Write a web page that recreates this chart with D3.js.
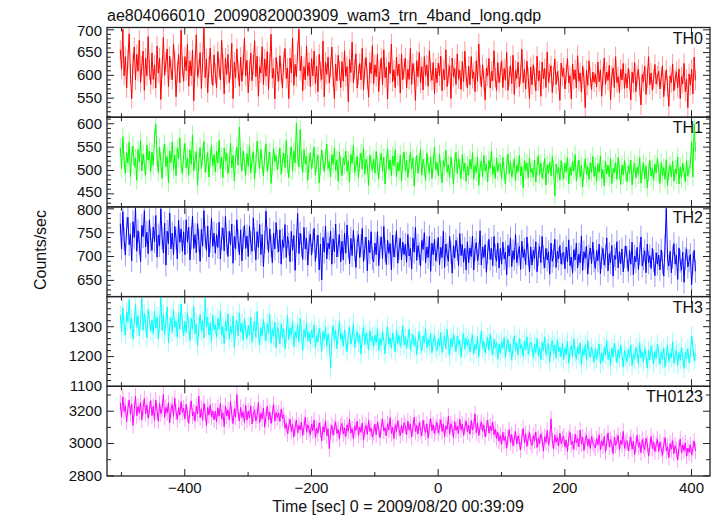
<!DOCTYPE html>
<html><head><meta charset="utf-8">
<script src="https://cdn.jsdelivr.net/npm/d3@7"></script>
<style>body{margin:0;background:#fff} text{font-family:"Liberation Sans",Arial,Helvetica,sans-serif}</style>
</head><body><svg id="c" width="717" height="516"></svg>
<script>
const titleText = "ae804066010_20090820003909_wam3_trn_4band_long.qdp";
const xLabelText = "Time [sec] 0 = 2009/08/20 00:39:09";
const yLabelText = "Counts/sec";
const panelNames = ["TH0","TH1","TH2","TH3","TH0123"];
const panelColors = ["#ff0000","#00ff00","#0000ff","#00ffff","#ff00ff"];
const yDomains = [[507,704],[421,613],[615,803],[1099,1399],[2796,3351]];
const yMajorTicks = [[550,600,650,700],[450,500,550,600],[650,700,750,800],[1100,1200,1300],[2800,3000,3200]];
const yMinorStep = [10,10,10,20,100];
const xMajorTicks = [-400,-200,0,200,400];
const xMinorTicks = [-500,-300,-100,100,300];
const errHalf = [22,20,24,32,50];
const timeStart = -501, timeStep = 2;

const th0 = [
655,612,700,598,640,571,633,690,602,548,624,661,589,645,608,676,583,619,652,566,637,598,684,611,579,
648,590,622,571,663,604,637,546,615,682,599,628,657,574,641,612,589,668,631,552,606,645,583,698,617,
586,640,609,667,575,631,598,654,543,621,688,596,612,649,570,628,702,594,635,561,618,659,601,577,644,
603,572,651,615,589,676,624,558,637,601,645,583,612,669,548,628,593,657,610,575,639,586,622,681,598,
632,561,609,648,587,622,675,596,641,553,618,604,662,579,635,597,651,568,626,689,593,614,547,638,607,
586,642,603,571,629,658,592,615,548,637,604,681,577,623,596,652,700,609,641,565,618,589,663,598,627,
574,636,598,652,581,619,563,645,607,590,674,552,628,601,639,582,616,661,595,548,624,587,643,609,572,
629,586,653,597,618,541,634,605,672,583,612,646,571,600,625,589,658,567,614,638,592,551,627,603,664,
581,622,596,645,563,610,637,578,655,594,617,547,628,603,668,585,611,572,639,598,624,560,646,589,613,
637,571,612,590,658,579,625,603,544,631,596,649,582,618,567,640,598,622,575,653,606,588,627,559,615,
583,626,598,641,565,612,589,655,574,603,620,548,637,596,614,579,646,591,610,568,629,585,652,597,571,
619,578,640,592,607,563,631,586,668,601,574,622,589,545,615,598,636,571,608,587,653,594,566,627,583,
605,631,572,614,588,649,566,597,620,581,643,557,610,592,628,574,601,656,583,612,569,630,594,548,617,
578,622,596,565,641,587,609,553,628,591,614,572,650,584,603,620,561,598,635,579,607,588,544,626,597,
615,569,603,636,582,598,547,624,590,611,571,642,586,604,562,619,593,528,610,577,631,595,568,606,584,
602,574,628,585,611,553,597,637,579,606,588,621,545,598,615,572,640,583,596,561,612,589,625,570,603,
571,614,589,545,606,582,627,563,598,612,574,534,601,585,619,557,593,640,578,604,566,591,623,580,597,
608,569,595,620,552,587,611,574,531,598,583,624,565,590,607,572,613,548,596,580,625,563,591,528,602,
577,612,558,639,588];

const th1 = [
548,503,571,520,492,537,515,560,486,530,551,509,525,478,544,517,563,498,534,512,489,553,521,540,497,
538,510,567,598,527,495,549,518,482,535,556,507,529,473,541,516,560,501,532,488,547,524,569,510,493,
531,557,504,526,489,543,512,575,498,522,539,467,517,548,503,530,561,495,514,537,485,526,552,508,533,
496,540,515,563,502,528,484,547,519,536,493,512,558,505,531,477,524,549,510,592,527,498,541,516,489,
535,508,552,494,521,539,481,515,562,527,503,544,513,488,529,556,497,520,538,471,509,546,518,531,500,
522,547,491,518,536,505,563,512,484,529,550,498,541,515,600,533,506,587,521,495,544,513,530,478,516,
537,502,524,549,490,516,531,472,508,543,519,497,526,555,503,518,485,533,512,547,499,522,476,538,510,
488,526,511,541,497,520,474,533,514,552,495,508,529,483,517,536,502,548,491,523,509,467,531,515,499,
524,493,540,509,481,518,535,497,527,470,512,546,501,522,488,530,509,543,485,516,498,532,476,519,538,
497,521,484,512,539,502,526,466,508,531,493,517,544,489,523,505,478,536,510,495,528,482,513,549,500,
516,488,534,501,473,520,507,542,495,511,484,528,503,469,517,538,492,524,506,481,533,498,515,476,509,
489,523,502,537,480,510,495,528,467,505,519,486,531,498,512,475,520,503,541,491,508,482,526,497,514,
512,481,527,496,470,509,534,492,518,485,503,524,477,511,496,531,488,507,462,520,499,515,483,526,494,
503,485,521,474,508,531,490,515,482,499,525,468,511,493,517,487,529,500,445,513,492,506,478,520,497,
481,515,496,527,470,506,489,518,498,533,477,502,521,485,510,464,499,524,491,507,480,516,495,529,486,
508,476,513,495,530,482,501,466,519,492,510,485,525,471,503,494,516,480,527,498,469,511,489,520,496,
475,509,493,521,468,500,514,483,506,490,527,472,498,515,481,509,462,496,520,487,503,478,512,494,525,
498,471,516,489,505,480,522,467,497,510,485,519,476,502,491,528,470,507,483,514,496,475,520,488,503,
512,560,485,598,540];

const th2 = [
768,715,793,736,702,758,781,724,745,690,772,739,801,710,753,727,688,764,741,795,719,750,705,776,733,
712,761,730,785,698,744,722,799,738,707,769,681,752,726,790,715,748,703,762,737,694,775,729,757,710,
751,703,776,729,760,692,738,784,716,745,707,768,733,689,756,721,795,740,712,763,698,731,779,720,748,
706,745,718,771,694,737,759,711,783,728,699,752,724,767,685,741,715,776,732,703,755,690,738,764,716,
742,699,763,728,710,780,735,692,751,718,766,703,745,678,729,794,737,708,757,721,686,748,715,770,731,
709,755,683,734,718,766,697,741,725,688,752,712,743,670,731,789,705,748,722,693,760,715,737,681,728,
746,702,731,758,689,720,744,671,725,650,739,708,763,694,727,715,752,683,736,709,767,698,722,745,688,
731,692,748,706,765,719,684,737,701,754,713,676,729,745,697,722,758,688,716,740,669,733,707,751,695,
688,727,703,751,680,718,740,695,762,711,682,733,706,726,671,744,698,720,753,685,715,737,692,729,703,
724,687,745,700,716,673,738,708,760,691,722,705,679,733,714,749,686,719,697,741,668,727,703,735,690,
711,739,682,718,697,752,676,725,703,689,741,708,664,722,696,733,715,680,747,701,724,687,716,671,730,
686,717,699,742,671,713,728,690,705,753,681,719,697,724,666,708,735,693,716,680,741,702,689,727,675,
716,683,729,694,708,661,722,700,738,678,711,693,745,686,704,720,672,731,697,714,682,740,703,667,719,
681,712,695,730,667,703,720,686,741,698,675,716,692,709,662,727,689,701,735,676,710,694,722,683,705,
708,673,719,688,734,680,698,664,713,692,727,675,704,686,742,670,709,695,721,662,700,717,684,729,690,
674,711,690,725,663,697,716,681,700,738,669,705,686,722,658,701,693,730,675,709,684,715,667,698,721,
697,668,712,683,729,661,700,688,718,672,705,740,679,694,711,665,725,686,701,674,716,690,659,707,683,
702,671,713,686,658,722,800,694,679,710,665,698,726,683,702,651,717,689,670,708,645,695,715,677,690,
703,640,685,712,668];

const th3 = [
1338,1281,1362,1302,1270,1347,1315,1389,1290,1326,1257,1311,1372,1296,1335,1268,1320,1394,1287,1343,1305,1262,1356,1319,1283,
1321,1275,1350,1293,1332,1258,1307,1400,1286,1339,1271,1314,1365,1244,1302,1328,1279,1355,1296,1317,1262,1343,1290,1374,1309,
1268,1316,1279,1345,1301,1252,1327,1289,1366,1274,1308,1235,1295,1340,1283,1319,1261,1393,1297,1330,1270,1312,1248,1336,1288,
1305,1263,1327,1289,1351,1270,1298,1241,1316,1284,1342,1257,1300,1276,1334,1230,1291,1318,1267,1345,1280,1309,1253,1326,1286,
1259,1302,1271,1330,1246,1288,1317,1263,1349,1279,1237,1296,1268,1324,1282,1251,1310,1275,1339,1243,1290,1266,1313,1228,1297,
1283,1240,1308,1262,1291,1225,1274,1337,1255,1295,1270,1318,1232,1281,1260,1304,1247,1326,1276,1219,1289,1263,1311,1251,1279,
1242,1286,1261,1305,1228,1270,1247,1293,1264,1216,1281,1255,1298,1233,1275,1243,1160,1266,1302,1250,1288,1225,1271,1316,1256,
1274,1233,1289,1251,1215,1268,1296,1240,1263,1309,1229,1258,1281,1244,1271,1206,1262,1298,1238,1277,1255,1220,1286,1249,1267,
1231,1270,1245,1292,1218,1259,1236,1281,1253,1207,1266,1299,1240,1262,1226,1277,1250,1214,1288,1243,1269,1232,1256,1303,1238,
1265,1226,1258,1289,1220,1247,1273,1234,1261,1205,1252,1282,1239,1217,1268,1244,1291,1228,1255,1236,1275,1211,1249,1270,1232,
1218,1257,1233,1279,1212,1246,1268,1225,1290,1240,1203,1259,1231,1272,1244,1215,1266,1237,1253,1196,1248,1275,1223,1261,1235,
1254,1213,1246,1271,1207,1239,1222,1265,1198,1243,1283,1226,1250,1211,1237,1262,1219,1274,1233,1204,1256,1228,1245,1189,1241,
1209,1248,1226,1262,1195,1235,1255,1214,1241,1186,1229,1268,1217,1244,1203,1259,1225,1238,1198,1251,1221,1265,1207,1232,1247,
1233,1194,1240,1212,1259,1201,1228,1187,1246,1219,1264,1205,1226,1242,1180,1231,1252,1210,1237,1193,1256,1214,1229,1198,1244,
1188,1227,1205,1249,1176,1218,1235,1199,1258,1212,1190,1231,1207,1244,1171,1223,1202,1238,1185,1252,1214,1196,1230,1209,1181,
1226,1191,1218,1240,1175,1209,1183,1230,1204,1252,1189,1215,1169,1227,1198,1243,1211,1178,1221,1195,1236,1206,1163,1219,1200,
1181,1222,1198,1237,1168,1207,1189,1229,1211,1172,1245,1194,1215,1180,1226,1201,1160,1219,1188,1233,1205,1174,1216,1192,1240,
1207,1172,1215,1189,1228,1163,1199,1236,1182,1210,1194,1248,1176,1203,1221,1169,1212,1186,1230,1197,1158,1214,1190,1225,1178,
1205,1268,1232,1185,1210];

const th0123 = [
3248,3160,3285,3196,3230,3132,3214,3267,3178,3241,3110,3205,3290,3169,3226,3188,3252,3143,3219,3275,3181,3236,3154,3210,3262,
3170,3228,3141,3266,3199,3135,3245,3182,3213,3300,3158,3221,3187,3249,3125,3204,3238,3165,3277,3192,3146,3219,3174,3256,3189,
3215,3150,3239,3176,3122,3204,3261,3168,3193,3135,3228,3181,3290,3157,3212,3140,3245,3188,3109,3220,3173,3237,3161,3198,3144,
3196,3131,3218,3165,3244,3150,3187,3102,3229,3168,3205,3143,3256,3179,3120,3212,3160,3300,3184,3138,3221,3157,3193,3127,3234,
3141,3198,3155,3230,3118,3179,3206,3137,3169,3251,3126,3184,3149,3217,3098,3165,3229,3144,3192,3121,3178,3240,3135,3188,3159,
3186,3134,3210,3152,3175,3090,3121,3058,3104,3147,3072,3115,3038,3096,3142,3064,3109,3081,3130,3047,3098,3160,3069,3112,3085,
3052,3118,3076,3143,3034,3092,3060,3125,3081,3014,3101,3067,3138,3045,3088,2965,3070,3110,3049,3096,3131,3058,3084,3026,3102,
3121,3055,3094,3040,3112,3073,3147,3061,3089,3025,3106,3079,3135,3048,3098,3066,3124,3017,3083,3109,3054,3140,3071,3093,3036,
3067,3116,3050,3129,3085,3033,3102,3148,3074,3095,3044,3120,3081,3157,3060,3097,3028,3113,3072,3138,3089,3046,3108,3063,3126,
3104,3052,3135,3079,3118,3038,3095,3161,3071,3110,3056,3127,3084,3045,3141,3093,3066,3119,3030,3101,3150,3077,3113,3058,3096,
3128,3061,3099,3144,3072,3115,3040,3107,3085,3166,3054,3120,3091,3035,3132,3078,3103,3059,3147,3082,3117,3048,3098,3136,3069,
3110,3055,3139,3081,3102,3180,3064,3125,3047,3096,3131,3073,3112,3038,3090,3143,3062,3104,3075,3128,3051,3085,3029,3066,3012,
3048,2991,3067,3015,3040,2968,3032,3083,3004,3052,2983,3026,3071,2995,3044,3010,2957,3036,3090,3001,3058,2979,3029,3064,3007,
2985,3046,3012,3069,2972,3030,2995,3057,3021,2950,3039,3003,3078,2988,3027,3150,3014,2966,3048,3006,3035,2980,3061,2997,3024,
3043,2975,3019,2948,3031,3066,2990,3012,2961,3054,3001,3028,2976,3080,2995,3037,2953,3015,3049,2982,3024,2966,3040,3003,2985,
2970,3027,2989,3051,2958,3013,2982,3040,2944,3006,3063,2976,3021,2995,2935,3034,2986,3009,3048,2961,3017,2991,3072,2967,3002,
3015,2952,2998,3036,2963,3010,2928,2987,3049,2974,3003,2940,3022,2981,2957,3030,2995,2918,2976,3041,2966,3008,2947,2990,3026,
2948,3006,2965,2924,2989,3033,2952,2978,2910,2996,2961,3015,2935,2983,2957,2895,2971,3024,2940,2987,2953,3001,2918,2969,2942,
2990,2927,2968,3012,2950];

const seriesValues = [th0, th1, th2, th3, th0123];

const svg = d3.select("#c");
const left = 107, right = 710, top0 = 27.5, panelH = 89.7;
const x = d3.scaleLinear().domain([-522, 430]).range([left, right]);
const axisColor = "#222";

svg.append("text").attr("x", 107).attr("y", 20.5).attr("font-size", 16).attr("fill", "#111").text(titleText);
svg.append("text").attr("transform", "translate(46,250) rotate(-90)").attr("text-anchor", "middle")
  .attr("font-size", 16).attr("fill", "#111").text(yLabelText);
svg.append("text").attr("x", 398).attr("y", 512).attr("text-anchor", "middle")
  .attr("font-size", 16).attr("fill", "#111").text(xLabelText);

function styleAxis(g) {
  g.select(".domain").remove();
  g.selectAll(".tick line").attr("stroke", axisColor).attr("stroke-width", 1);
  g.selectAll(".tick text").attr("font-size", 15).attr("fill", "#111")
    .attr("font-family", '"Liberation Sans",Arial,sans-serif');
}

seriesValues.forEach((vals, k) => {
  const top = top0 + k * panelH, bottom = top + panelH;
  const y = d3.scaleLinear().domain(yDomains[k]).range([bottom, top]);
  const g = svg.append("g");
  const clipId = "clip" + k;
  svg.append("clipPath").attr("id", clipId).append("rect")
    .attr("x", left).attr("y", top).attr("width", right - left).attr("height", panelH);
  const data = vals.map((v, i) => ({ t: timeStart + i * timeStep, v }));
  const dg = g.append("g").attr("clip-path", `url(#${clipId})`);
  dg.append("g").selectAll("line").data(data).join("line")
    .attr("x1", d => x(d.t)).attr("x2", d => x(d.t))
    .attr("y1", d => y(d.v - errHalf[k])).attr("y2", d => y(d.v + errHalf[k]))
    .attr("stroke", panelColors[k]).attr("stroke-opacity", 0.4).attr("stroke-width", 1);
  dg.append("path").datum(data)
    .attr("d", d3.line().x(d => x(d.t)).y(d => y(d.v)))
    .attr("fill", "none").attr("stroke", panelColors[k]).attr("stroke-width", 1);

  const [d0, d1] = yDomains[k];
  const st = yMinorStep[k];
  const minor = d3.range(Math.ceil(d0 / st) * st, d1, st).filter(v => !yMajorTicks[k].includes(v));

  g.append("g").attr("transform", `translate(${left},0)`)
    .call(d3.axisLeft(y).tickValues(yMajorTicks[k]).tickSize(-7).tickPadding(5).tickFormat(d3.format("d")))
    .call(styleAxis)
    .call(ax => ax.selectAll(".tick text").attr("y", d => {
      const py = y(d);
      if (py - top < 4) return 1.2;
      const fb = bottom - py;
      if (fb > 5 && fb < 16) return -1.2;
      return 0;
    }));
  g.append("g").attr("transform", `translate(${left},0)`)
    .call(d3.axisLeft(y).tickValues(minor).tickSize(-4).tickFormat(""))
    .call(styleAxis);
  g.append("g").attr("transform", `translate(${right},0)`)
    .call(d3.axisRight(y).tickValues(yMajorTicks[k]).tickSize(-7).tickFormat(""))
    .call(styleAxis);
  g.append("g").attr("transform", `translate(${right},0)`)
    .call(d3.axisRight(y).tickValues(minor).tickSize(-4).tickFormat(""))
    .call(styleAxis);
  g.append("g").attr("transform", `translate(0,${top})`)
    .call(d3.axisTop(x).tickValues(xMajorTicks).tickSize(-7).tickFormat(""))
    .call(styleAxis);
  g.append("g").attr("transform", `translate(0,${top})`)
    .call(d3.axisTop(x).tickValues(xMinorTicks).tickSize(-4).tickFormat(""))
    .call(styleAxis);
  const isLast = k === seriesValues.length - 1;
  g.append("g").attr("transform", `translate(0,${bottom})`)
    .call(d3.axisBottom(x).tickValues(xMajorTicks).tickSize(-7).tickPadding(6.5)
      .tickFormat(isLast ? d3.format("d") : ""))
    .call(styleAxis);
  g.append("g").attr("transform", `translate(0,${bottom})`)
    .call(d3.axisBottom(x).tickValues(xMinorTicks).tickSize(-4).tickFormat(""))
    .call(styleAxis);

  g.append("rect").attr("x", left).attr("y", top).attr("width", right - left).attr("height", panelH)
    .attr("fill", "none").attr("stroke", axisColor).attr("stroke-width", 1.3);
  g.append("text").attr("x", 703).attr("y", top + 16).attr("text-anchor", "end")
    .attr("font-size", 16).attr("fill", "#111").text(panelNames[k]);
});
</script></body></html>
